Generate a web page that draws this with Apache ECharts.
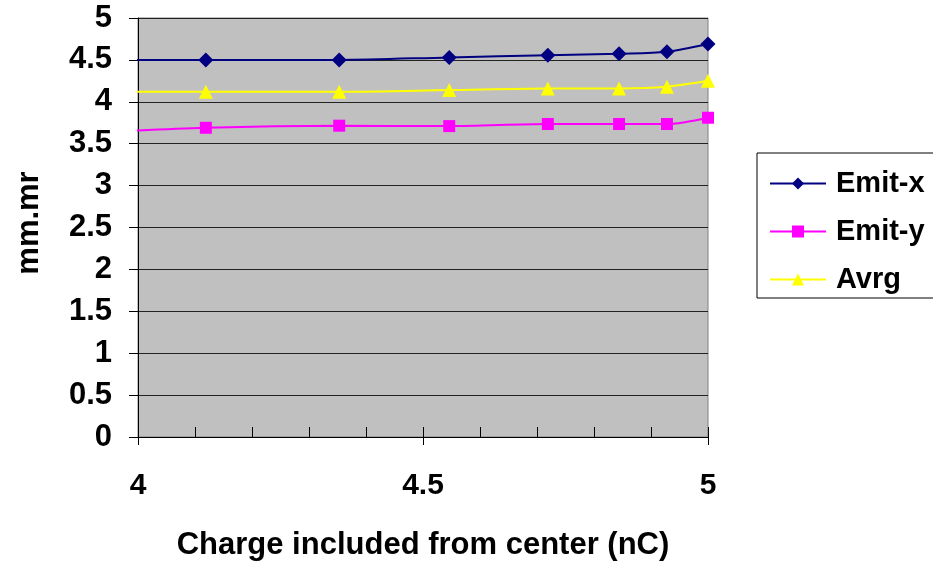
<!DOCTYPE html>
<html>
<head>
<meta charset="utf-8">
<script src="https://cdn.jsdelivr.net/npm/echarts@6/dist/echarts.min.js"></script>
<style>
html,body{margin:0;padding:0;background:#fff;}
#chart{width:933px;height:561px;}
</style>
</head>
<body>
<div id="chart"></div>
<script>
// Data
var charge = [3.88, 4.119, 4.353, 4.546, 4.719, 4.844, 4.928, 5.0];
var emitX  = [4.50, 4.50, 4.50, 4.53, 4.555, 4.574, 4.598, 4.69];
var emitY  = [3.62, 3.69, 3.715, 3.71, 3.735, 3.735, 3.735, 3.81];
var avrg   = [4.12, 4.12, 4.12, 4.14, 4.16, 4.16, 4.18, 4.25];
var seriesNames = ['Emit-x', 'Emit-y', 'Avrg'];
var xTicks = [4, 4.5, 5];
var yTicks = [0, 0.5, 1, 1.5, 2, 2.5, 3, 3.5, 4, 4.5, 5];

function pairs(xs, ys) { return xs.map(function (x, i) { return [x, ys[i]]; }); }

var FONT = 'Liberation Sans, Arial, sans-serif';
var chart = echarts.init(document.getElementById('chart'), null, {renderer: 'canvas'});
var option = {
  animation: false,
  grid: {left: 138, right: 225, top: 18, bottom: 124, show: true, backgroundColor: '#c0c0c0', borderColor: '#808080', borderWidth: 1,
    containLabel: false, outerBoundsMode: 'none'},
  legend: {
    orient: 'vertical', left: 757, top: 153,
    data: seriesNames,
    itemWidth: 56, itemHeight: 15, itemGap: 19,
    padding: [16, 10, 4, 12],
    borderColor: '#000', borderWidth: 1,
    textStyle: {fontFamily: FONT, fontWeight: 'bold', fontSize: 29, color: '#000', lineHeight: 29, padding: [0, 0, 0, 5]}
  },
  xAxis: [{
    type: 'value', min: 4, max: 5, interval: 0.5,
    name: 'Charge included from center (nC)', nameLocation: 'middle', nameGap: 93,
    nameTextStyle: {fontFamily: FONT, fontWeight: 'bold', fontSize: 31, color: '#000'},
    axisLine: {show: true, lineStyle: {color: '#000', width: 1}},
    axisTick: {show: true, inside: true, length: 10, lineStyle: {color: '#000'}},
    minorTick: {show: true, splitNumber: 5, length: 10, lineStyle: {color: '#000'}},
    axisLabel: {margin: 34, fontFamily: FONT, fontWeight: 'bold', fontSize: 30, color: '#000',
      formatter: function (v) { return xTicks.indexOf(+v.toFixed(2)) >= 0 ? String(v) : ''; }},
    splitLine: {show: false}
  }, {
    type: 'value', min: 4, max: 5, interval: 0.5, position: 'bottom',
    axisLine: {show: false},
    axisTick: {show: true, inside: false, length: 8, lineStyle: {color: '#000'}},
    axisLabel: {show: false},
    splitLine: {show: false}
  }],
  yAxis: {
    type: 'value', min: 0, max: 5, interval: 0.5,
    name: 'mm.mr', nameLocation: 'middle', nameGap: 93,
    nameTextStyle: {fontFamily: FONT, fontWeight: 'bold', fontSize: 31, color: '#000', padding: [0, 0, 0, 9]},
    axisLine: {show: true, lineStyle: {color: '#000', width: 1}},
    axisTick: {show: true, inside: false, length: 9, lineStyle: {color: '#000'}},
    axisLabel: {margin: 26, fontFamily: FONT, fontWeight: 'bold', fontSize: 31, color: '#000',
      formatter: function (v) { return String(v); }},
    splitLine: {show: true, lineStyle: {color: '#222', width: 1}}
  },
  series: [
    {name: 'Emit-x', type: 'line', data: pairs(charge, emitX), smooth: 0.3, clip: true,
      symbol: 'diamond', symbolSize: 15, lineStyle: {color: '#000080', width: 2}, itemStyle: {color: '#000080'}},
    {name: 'Emit-y', type: 'line', data: pairs(charge, emitY), smooth: 0.3, clip: true,
      symbol: 'rect', symbolSize: 12, lineStyle: {color: '#ff00ff', width: 2}, itemStyle: {color: '#ff00ff'}},
    {name: 'Avrg', type: 'line', data: pairs(charge, avrg), smooth: 0.3, clip: true,
      symbol: 'triangle', symbolSize: 14, lineStyle: {color: '#ffff00', width: 2}, itemStyle: {color: '#ffff00'}}
  ]
};
chart.setOption(option);
</script>
</body>
</html>
